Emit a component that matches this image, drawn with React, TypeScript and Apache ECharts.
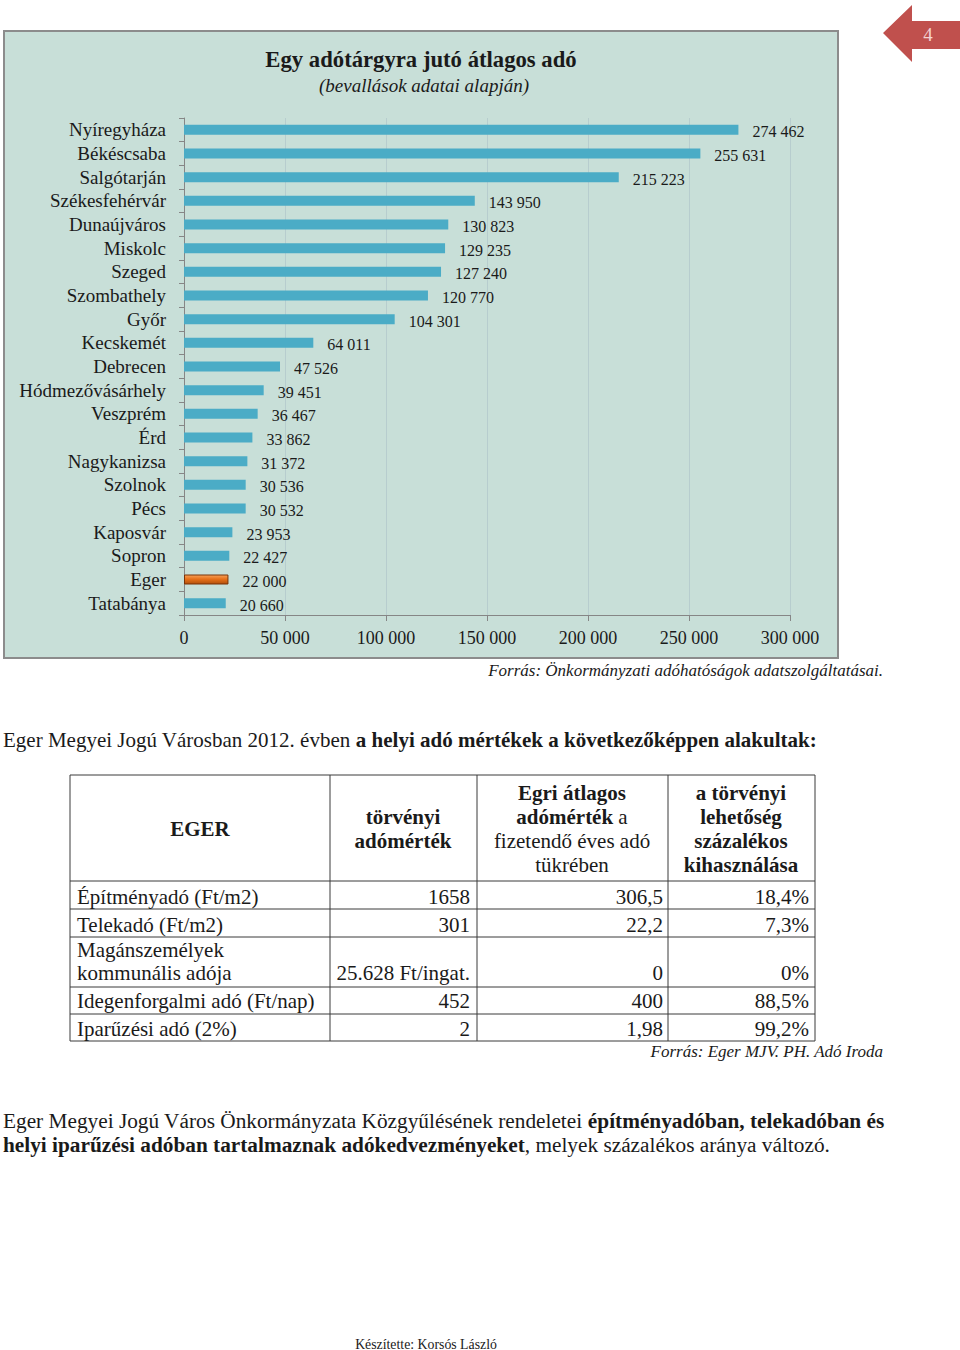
import React, { useEffect, useRef } from "react";
import * as echarts from "echarts";

const cities = [
  "Nyíregyháza", "Békéscsaba", "Salgótarján", "Székesfehérvár", "Dunaújváros",
  "Miskolc", "Szeged", "Szombathely", "Győr", "Kecskemét", "Debrecen",
  "Hódmezővásárhely", "Veszprém", "Érd", "Nagykanizsa", "Szolnok", "Pécs",
  "Kaposvár", "Sopron", "Eger", "Tatabánya",
];
const avgTax = [
  274462, 255631, 215223, 143950, 130823, 129235, 127240, 120770, 104301, 64011,
  47526, 39451, 36467, 33862, 31372, 30536, 30532, 23953, 22427, 22000, 20660,
];
const highlightCity = "Eger";
const xTickLabels = ["0", "50 000", "100 000", "150 000", "200 000", "250 000", "300 000"];

const tableHeaderCol1 = ["EGER"];
const tableRowLabels = [
  ["Építményadó (Ft/m2)"],
  ["Telekadó (Ft/m2)"],
  ["Magánszemélyek", "kommunális adója"],
  ["Idegenforgalmi adó (Ft/nap)"],
  ["Iparűzési adó (2%)"],
];
const legalRate = ["1658", "301", "25.628 Ft/ingat.", "452", "2"];
const egerAverage = ["306,5", "22,2", "0", "400", "1,98"];
const utilization = ["18,4%", "7,3%", "0%", "88,5%", "99,2%"];

const FONT = '"Liberation Serif", "Times New Roman", serif';
const INK = "#1a1a1a";

function fmt(v: number): string {
  return String(v).replace(/\B(?=(\d{3})+(?!\d))/g, " ");
}

function txt(x: number, y: number, text: string, opts: any = {}) {
  return {
    type: "text",
    x,
    y,
    z: 10,
    style: {
      text,
      fill: opts.fill || INK,
      fontFamily: FONT,
      fontSize: opts.fontSize || 20,
      fontWeight: opts.fontWeight || "normal",
      fontStyle: opts.fontStyle || "normal",
      textAlign: opts.align || "left",
      textVerticalAlign: "middle",
      rich: opts.rich,
    },
  };
}

function line(x1: number, y1: number, x2: number, y2: number, color = "#3a3a3a", w = 1) {
  return {
    type: "line",
    z: 10,
    shape: { x1, y1, x2, y2 },
    style: { stroke: color, lineWidth: w },
  };
}

function richStyles(size: number) {
  return {
    n: { fontFamily: FONT, fontSize: size, fill: INK, fontWeight: "normal" },
    b: { fontFamily: FONT, fontSize: size, fill: INK, fontWeight: "bold" },
  };
}

export default function App() {
  const ref = useRef<HTMLDivElement>(null);

  useEffect(() => {
    if (!ref.current) return;
    const chart = echarts.init(ref.current, undefined, { renderer: "svg" });

    const graphics: any[] = [];
    // chart panel
    graphics.push({
      type: "rect",
      z: -10,
      shape: { x: 4, y: 31, width: 834, height: 627 },
      style: { fill: "#c8dfd8", stroke: "#8c8c8c", lineWidth: 2 },
    });
    // page arrow
    graphics.push({
      type: "polygon",
      z: 10,
      shape: {
        points: [[883, 33], [912, 5], [912, 21], [960, 21], [960, 49], [912, 49], [912, 62]],
      },
      style: { fill: "#c0504d" },
    });
    graphics.push(txt(928, 34, "4", { fill: "#f3d3d2", fontSize: 19, align: "center" }));
    // chart titles
    graphics.push(txt(421, 59, "Egy adótárgyra jutó átlagos adó", { fontSize: 22.7, fontWeight: "bold", align: "center" }));
    graphics.push(txt(424, 85, "(bevallások adatai alapján)", { fontSize: 19, fontStyle: "italic", align: "center" }));
    graphics.push(txt(883, 670, "Forrás: Önkormányzati adóhatóságok adatszolgáltatásai.", { fontSize: 17, fontStyle: "italic", align: "right" }));

    // paragraph above table
    graphics.push(
      txt(3, 740, "{n|Eger Megyei Jogú Városban 2012. évben }{b|a helyi adó mértékek a következőképpen alakultak:}", {
        fontSize: 21,
        rich: richStyles(21),
      })
    );

    // table grid
    const colX = [70, 330, 477, 668, 815];
    const rowY = [775, 881, 909, 937, 987, 1014, 1041];
    rowY.forEach((y) => graphics.push(line(colX[0], y, colX[4], y)));
    colX.forEach((x) => graphics.push(line(x, rowY[0], x, rowY[6])));

    const TS = 21;
    graphics.push(txt(200, 829, tableHeaderCol1[0], { fontSize: TS, fontWeight: "bold", align: "center" }));
    graphics.push(txt(403, 817, "törvényi", { fontSize: TS, fontWeight: "bold", align: "center" }));
    graphics.push(txt(403, 841, "adómérték", { fontSize: TS, fontWeight: "bold", align: "center" }));
    graphics.push(txt(572, 793, "Egri átlagos", { fontSize: TS, fontWeight: "bold", align: "center" }));
    graphics.push(
      txt(572, 817, "{b|adómérték}{n| a}", {
        fontSize: TS,
        align: "center",
        rich: richStyles(TS),
      })
    );
    graphics.push(txt(572, 841, "fizetendő éves adó", { fontSize: TS, align: "center" }));
    graphics.push(txt(572, 865, "tükrében", { fontSize: TS, align: "center" }));
    ["a törvényi", "lehetőség", "százalékos", "kihasználása"].forEach((s, i) =>
      graphics.push(txt(741, 793 + i * 24, s, { fontSize: TS, fontWeight: "bold", align: "center" }))
    );

    const rowValueY = [897, 925, 973, 1001, 1029];
    tableRowLabels.forEach((labels, i) => {
      if (labels.length === 1) {
        graphics.push(txt(77, rowValueY[i], labels[0], { fontSize: TS }));
      } else {
        graphics.push(txt(77, rowValueY[i] - 23, labels[0], { fontSize: TS }));
        graphics.push(txt(77, rowValueY[i], labels[1], { fontSize: TS }));
      }
      graphics.push(txt(470, rowValueY[i], legalRate[i], { fontSize: TS, align: "right" }));
      graphics.push(txt(663, rowValueY[i], egerAverage[i], { fontSize: TS, align: "right" }));
      graphics.push(txt(809, rowValueY[i], utilization[i], { fontSize: TS, align: "right" }));
    });
    graphics.push(txt(883, 1051, "Forrás: Eger MJV. PH. Adó Iroda", { fontSize: 17, fontStyle: "italic", align: "right" }));

    // bottom paragraph
    graphics.push(
      txt(3, 1121, "{n|Eger Megyei Jogú Város Önkormányzata Közgyűlésének rendeletei }{b|építményadóban, telekadóban és}", {
        fontSize: 21.3,
        rich: richStyles(21.3),
      })
    );
    graphics.push(
      txt(3, 1145, "{b|helyi iparűzési adóban tartalmaznak adókedvezményeket}{n|, melyek százalékos aránya változó.}", {
        fontSize: 21.3,
        rich: richStyles(21.3),
      })
    );
    graphics.push(txt(426, 1344, "Készítette: Korsós László", { fontSize: 13.8, align: "center" }));

    const seriesData = avgTax.map((v, i) =>
      cities[i] === highlightCity
        ? {
            value: v,
            itemStyle: {
              color: new echarts.graphic.LinearGradient(0, 0, 0, 1, [
                { offset: 0, color: "#f6a25a" },
                { offset: 0.45, color: "#e8711a" },
                { offset: 1, color: "#b2500c" },
              ]),
              borderColor: "#7a3306",
              borderWidth: 1,
            },
          }
        : v
    );

    chart.setOption({
      animation: false,
      backgroundColor: "#ffffff",
      textStyle: { fontFamily: FONT },
      grid: { left: 184, right: 170, top: 118, bottom: 735, containLabel: false },
      xAxis: {
        type: "value",
        min: 0,
        max: 300000,
        interval: 50000,
        axisLine: { show: true, lineStyle: { color: "#868686", width: 1 } },
        axisTick: { show: true, length: 6, lineStyle: { color: "#868686" } },
        splitLine: { show: true, lineStyle: { color: "#b7cdce", width: 1 } },
        axisLabel: {
          margin: 14,
          fontSize: 18,
          color: INK,
          fontFamily: FONT,
          formatter: (v: number) => xTickLabels[Math.round(v / 50000)],
        },
      },
      yAxis: {
        type: "category",
        inverse: true,
        data: cities,
        axisLine: { show: true, lineStyle: { color: "#868686", width: 1 } },
        axisTick: { show: true, length: 5, interval: 0, lineStyle: { color: "#868686" } },
        axisLabel: { interval: 0, margin: 18, fontSize: 19, color: INK, fontFamily: FONT },
      },
      series: [
        {
          type: "bar",
          data: seriesData,
          barWidth: 10,
          itemStyle: { color: "#4bacc6" },
          label: {
            show: true,
            position: "right",
            distance: 14,
            offset: [0, 2],
            fontSize: 16,
            color: INK,
            fontFamily: FONT,
            formatter: (p: any) => fmt(p.value),
          },
        },
      ],
      graphic: { elements: graphics },
    });

    return () => chart.dispose();
  }, []);

  return (
    <div
      ref={ref}
      style={{ position: "absolute", left: 0, top: 0, width: 960, height: 1350 }}
    />
  );
}
